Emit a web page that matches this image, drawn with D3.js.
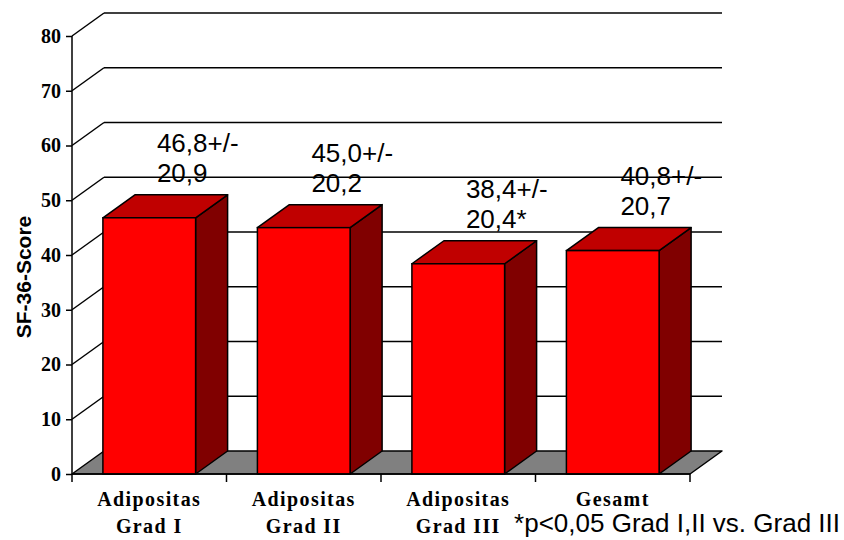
<!DOCTYPE html>
<html>
<head>
<meta charset="utf-8">
<script src="https://cdn.jsdelivr.net/npm/d3@7"></script>
<style>
  html, body { margin: 0; padding: 0; background: #fff; }
  svg { display: block; }
</style>
</head>
<body>
<svg id="chart" width="844" height="540"></svg>
<script>
// SF-36 scores by obesity grade
const categories = ["Adipositas Grad I", "Adipositas Grad II", "Adipositas Grad III", "Gesamt"];
const categoryLines = [["Adipositas", "Grad I"], ["Adipositas", "Grad II"], ["Adipositas", "Grad III"], ["Gesamt"]];
const scores = [46.8, 45.0, 38.4, 40.8];
const labelLines = [["46,8+/-", "20,9"], ["45,0+/-", "20,2"], ["38,4+/-", "20,4*"], ["40,8+/-", "20,7"]];
const yTicks = [0, 10, 20, 30, 40, 50, 60, 70, 80];
const yTitle = "SF-36-Score";
const footnote = "*p<0,05 Grad I,II vs. Grad III";

(function () {
  const svg = d3.select("#chart");

  // plot frame (front plane) and the oblique depth of the 3D box
  const plotLeft = 72, plotRight = 690, plotBase = 474, plotTop = 36;
  const dx = 32, dy = -23;

  const y = d3.scaleLinear().domain([0, 80]).range([plotBase, plotTop]);
  const x = d3.scaleBand().domain(categories).range([plotLeft, plotRight])
    .paddingInner(0.4).paddingOuter(0.2);

  const line = d3.line();
  const stroke = "#000", sw = 1.5;

  // back wall gridlines
  svg.append("g").selectAll("line").data(yTicks.filter(t => t > 0)).join("line")
    .attr("x1", plotLeft + dx).attr("x2", plotRight + dx)
    .attr("y1", d => y(d) + dy).attr("y2", d => y(d) + dy)
    .attr("stroke", stroke).attr("stroke-width", sw);

  // side wall diagonals
  svg.append("g").selectAll("line").data(yTicks.filter(t => t > 0)).join("line")
    .attr("x1", plotLeft).attr("x2", plotLeft + dx)
    .attr("y1", d => y(d)).attr("y2", d => y(d) + dy)
    .attr("stroke", stroke).attr("stroke-width", sw);

  // floor
  svg.append("path")
    .attr("d", line([[plotLeft, plotBase], [plotLeft + dx, plotBase + dy], [plotRight + dx, plotBase + dy], [plotRight, plotBase]]) + "Z")
    .attr("fill", "#808080").attr("stroke", stroke).attr("stroke-width", sw)
    .attr("stroke-linejoin", "round");

  // bars: right side, top, front face
  const bars = svg.append("g").selectAll("g").data(categories).join("g");
  bars.each(function (c, i) {
    const g = d3.select(this);
    const x0 = x(c), w = x.bandwidth(), yt = y(scores[i]), yb = y(0);
    g.append("path")
      .attr("d", line([[x0 + w, yt], [x0 + w + dx, yt + dy], [x0 + w + dx, yb + dy], [x0 + w, yb]]) + "Z")
      .attr("fill", "#800000").attr("stroke", stroke).attr("stroke-width", sw).attr("stroke-linejoin", "round");
    g.append("path")
      .attr("d", line([[x0, yt], [x0 + dx, yt + dy], [x0 + w + dx, yt + dy], [x0 + w, yt]]) + "Z")
      .attr("fill", "#C00000").attr("stroke", stroke).attr("stroke-width", sw).attr("stroke-linejoin", "round");
    g.append("rect")
      .attr("x", x0).attr("y", yt).attr("width", w).attr("height", yb - yt)
      .attr("fill", "#FF0000").attr("stroke", stroke).attr("stroke-width", sw);
  });

  // value axis
  const yAxis = svg.append("g").attr("transform", `translate(${plotLeft},0)`)
    .call(d3.axisLeft(y).tickValues(yTicks).tickSize(6).tickPadding(5).tickFormat(d3.format("d")));
  yAxis.select(".domain").attr("stroke", stroke).attr("stroke-width", sw).attr("d", `M0,${plotBase}V${plotTop}`);
  yAxis.selectAll(".tick line").attr("stroke", stroke).attr("stroke-width", sw);
  yAxis.selectAll(".tick text")
    .attr("font-family", "'Liberation Serif', 'Times New Roman', serif")
    .attr("font-weight", "bold").attr("font-size", 20).attr("fill", "#000");

  // category axis along the front edge of the floor
  const boundaries = [plotLeft].concat(categories.map(c => x(c) + x.bandwidth() + x.step() * x.paddingInner() / 2));
  boundaries[boundaries.length - 1] = plotRight;
  svg.append("line").attr("x1", plotLeft).attr("x2", plotRight).attr("y1", plotBase).attr("y2", plotBase)
    .attr("stroke", stroke).attr("stroke-width", sw);
  svg.append("g").selectAll("line").data(boundaries).join("line")
    .attr("x1", d => d).attr("x2", d => d).attr("y1", plotBase).attr("y2", plotBase + 8)
    .attr("stroke", stroke).attr("stroke-width", sw);

  svg.append("g").selectAll("text").data(categories).join("text")
    .attr("text-anchor", "middle")
    .attr("font-family", "'Liberation Serif', 'Times New Roman', serif")
    .attr("font-weight", "bold").attr("font-size", 20).attr("letter-spacing", 1.4)
    .each(function (c, i) {
      const cx = x(c) + x.bandwidth() / 2;
      d3.select(this).selectAll("tspan").data(categoryLines[i]).join("tspan")
        .attr("x", cx).attr("y", (d, j) => 506 + j * 27).text(d => d);
    });

  // value labels above the bars
  svg.append("g").selectAll("text").data(categories).join("text")
    .attr("font-family", "'Liberation Sans', Arial, sans-serif")
    .attr("font-size", 26).attr("fill", "#000")
    .each(function (c, i) {
      const lx = x(c) + 54, ly = y(scores[i]) - 66;
      d3.select(this).selectAll("tspan").data(labelLines[i]).join("tspan")
        .attr("x", lx).attr("y", (d, j) => ly + j * 30).text(d => d);
    });

  // axis title
  svg.append("text")
    .attr("transform", "translate(31,277) rotate(-90)")
    .attr("text-anchor", "middle")
    .attr("font-family", "'Liberation Sans', Arial, sans-serif")
    .attr("font-weight", "bold").attr("font-size", 21)
    .text(yTitle);

  // significance note
  svg.append("text")
    .attr("x", 840).attr("y", 532).attr("text-anchor", "end")
    .attr("font-family", "'Liberation Sans', Arial, sans-serif")
    .attr("font-size", 26)
    .text(footnote);
})();
</script>
</body>
</html>
